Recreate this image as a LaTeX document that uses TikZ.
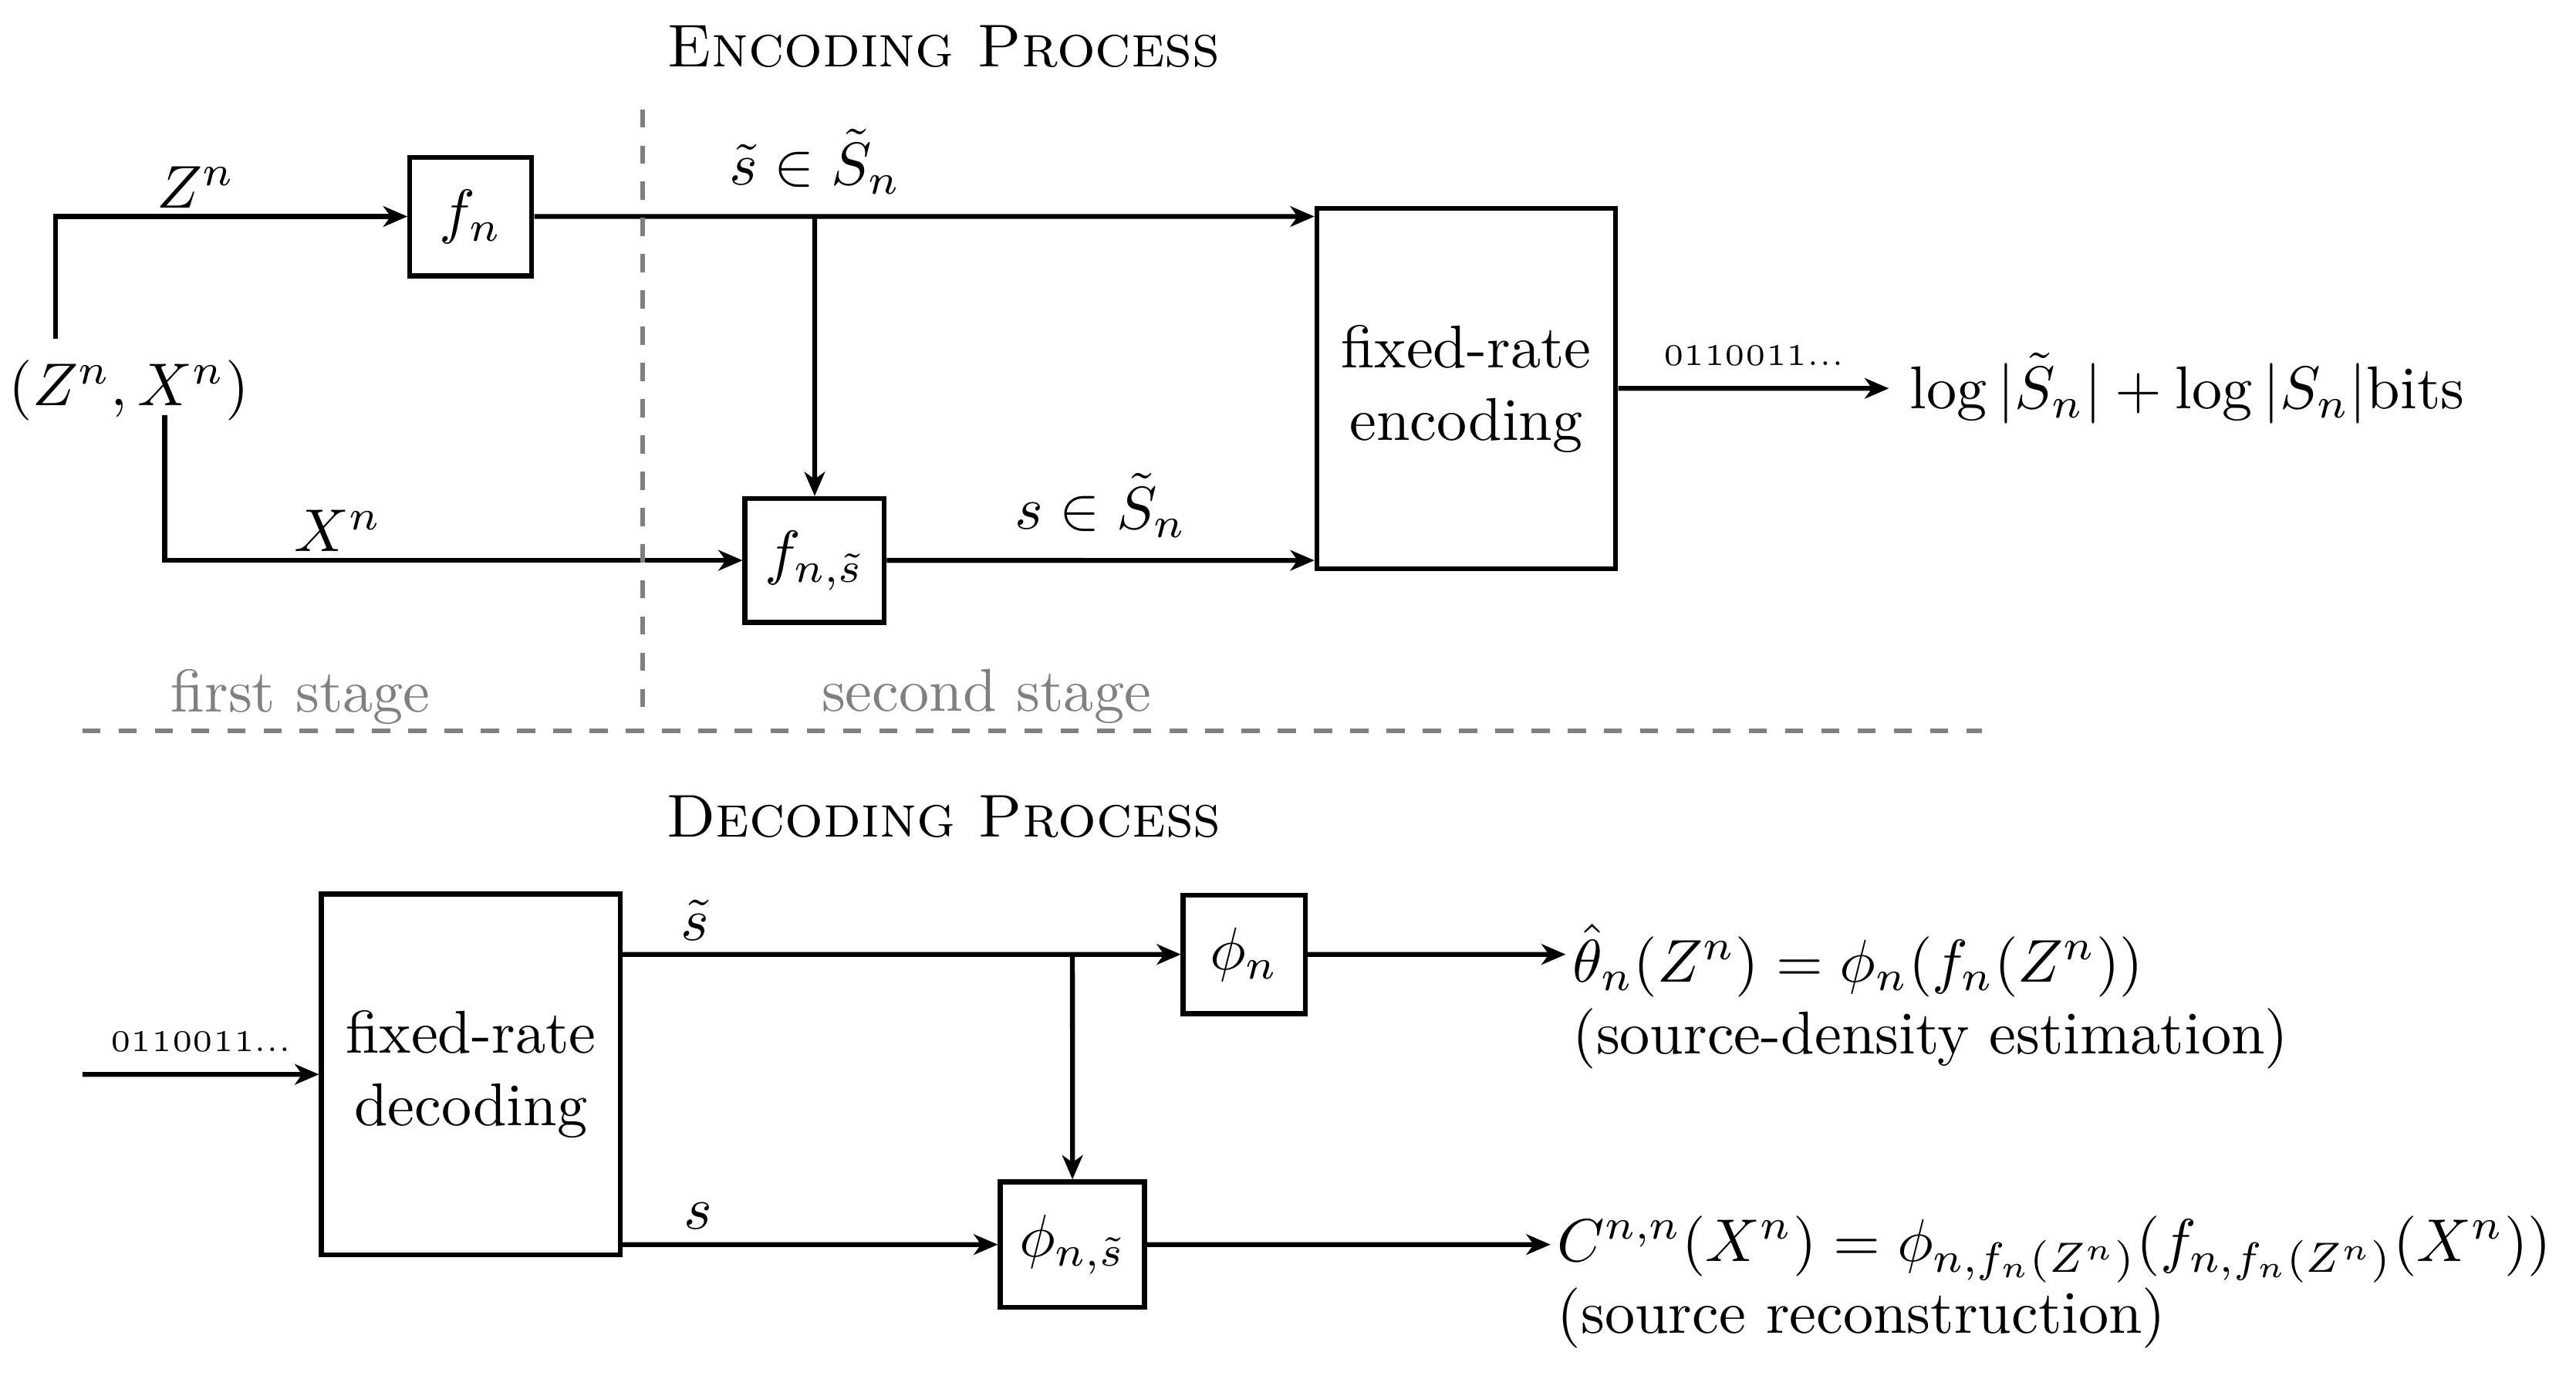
\documentclass[tikz,border=0pt]{standalone}
\usetikzlibrary{positioning,arrows.meta}

\begin{document}
\begin{tikzpicture}[scale=1.042,
  block/.style={draw, thick, minimum width=0.71cm, minimum height=0.69cm, inner sep=2pt},
  coder/.style={draw, thick, minimum width=1.74cm, minimum height=2.1cm, align=center},
  link/.style={thick, -{Stealth[length=4pt,width=3.4pt,inset=1.2pt]}},
  divider/.style={thick, dashed, gray},
  stage/.style={text=gray},
  result/.style={anchor=west, align=left, inner xsep=1pt}
]
\useasboundingbox (0,0) rectangle (14.39,7.68);

% encoding
\node (enctitle) at (5.27,7.42) {\textsc{Encoding Process}};
\node (src) at (0.72,5.50) {$(Z^n,X^n)$};
\node[block] (fn) at (2.63,6.47) {$f_n$};
\node[block, minimum width=0.81cm, minimum height=0.72cm] (fns) at (4.55,4.55) {$f_{n,\tilde s}$};
\node[coder] (enc) at (8.19,5.51) {fixed-rate\\encoding};
\node[anchor=west] (bits) at (10.55,5.51) {$\log|\tilde S_n|+\log|S_n|$bits};

\draw[link] ([xshift=-0.41cm]src.north) |- node[above, pos=0.7, yshift=-0.08cm] {$Z^n$} (fn);
\draw[link] (fn) -- node[above, pos=0.36] {$\tilde s\in\tilde S_n$} (fn -| enc.west);
\draw[link] (fn -| fns.north) -- (fns);
\draw[link] ([xshift=0.2cm,yshift=0.15cm]src.south) |- node[above, pos=0.65, yshift=-0.08cm] {$X^n$} (fns);
\draw[link] (fns) -- node[above] {$s\in\tilde S_n$} (fns -| enc.west);
\draw[link] (enc) -- node[above] {\tiny 0110011...} (bits);

\draw[divider] (3.59,7.07) -- (3.59,3.69);
\draw[divider] (0.46,3.60) -- (11.07,3.60);
\node[stage] (first) at (1.68,3.79) {first stage};
\node[stage] (second) at (5.51,3.79) {second stage};

% decoding
\node (dectitle) at (5.27,3.12) {\textsc{Decoding Process}};
\coordinate (bitsin) at (0.46,1.68);
\node[coder] (dec) at (2.63,1.68) {fixed-rate\\decoding};
\node[block] (phi) at (6.95,2.35) {$\phi_n$};
\node[block, minimum width=0.84cm, minimum height=0.73cm] (phis) at (5.99,0.73) {$\phi_{n,\tilde s}$};
\node[result] (est) at (8.745,2.115) {$\hat\theta_n(Z^n)=\phi_n(f_n(Z^n))$\\(source-density estimation)};
\node[result] (rec) at (8.66,0.52) {$C^{n,n}(X^n)=\phi_{n,f_n(Z^n)}(f_{n,f_n(Z^n)}(X^n))$\\(source reconstruction)};

\draw[link] (bitsin) -- node[above] {\tiny 0110011...} (dec);
\draw[link] (dec.east |- phi) -- node[above, pos=0.13, yshift=-0.05cm] {$\tilde s$} (phi);
\draw[link] (phi -| phis.north) -- (phis);
\draw[link] (dec.east |- phis) -- node[above, pos=0.2, yshift=-0.04cm] {$s$} (phis);
\draw[link] (phi) -- (phi -| est.west);
\draw[link] (phis) -- (phis -| rec.west);
\end{tikzpicture}
\end{document}
